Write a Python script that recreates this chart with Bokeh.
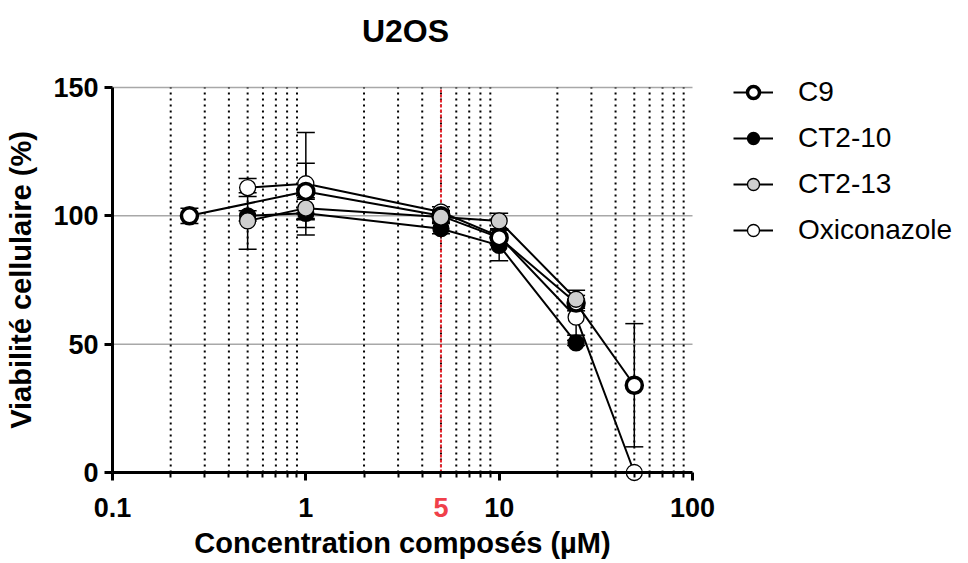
import math
from bokeh.plotting import figure
from bokeh.models import (ColumnDataSource, Whisker, TeeHead, Label, Legend, LegendItem,
                          FixedTicker, CustomJSTickFormatter, Range1d)
from bokeh.embed import file_html
from bokeh.resources import INLINE

# ---- data ----
x_c9 = [0.25, 1, 5, 10, 25, 50]
y_c9 = [100, 109.5, 100, 91.5, 66, 34]
e_c9 = [3, 11, 2, 3, 3, 24]

x_ct10 = [0.5, 1, 5, 10, 25]
y_ct10 = [100, 101, 95, 88.5, 50.5]
e_ct10 = [2, 5.5, 2, 6, 1]

x_ct13 = [0.5, 1, 5, 10, 25]
y_ct13 = [98, 103, 99.5, 98, 67.5]
e_ct13 = [11, 4, 2, 3, 3.5]

x_oxi = [0.5, 1, 5, 10, 25, 50]
y_oxi = [111, 112.5, 101.5, 92, 60.5, 0]
e_oxi = [3.5, 20, 2, 3, 7, 0]

x_major_ticks = [0.1, 1, 10, 100]
y_ticks = [0, 50, 100, 150]
highlight_conc = 5
title_text = "U2OS"

FONT = "Liberation Sans"

# ---- layout: whole canvas is the frame; axes are drawn at fixed locations ----
W, H = 960, 562
X0PX, X1PX = 112, 692      # pixel positions of x = 0.1 and x = 100
Y0PX, Y1PX = 472, 87       # pixel positions (from top) of y = 0 and y = 150
XMIN, XMAX = x_major_ticks[0], x_major_ticks[-1]
YMIN, YMAX = y_ticks[0], y_ticks[-1]
ppd = (X1PX - X0PX) / (math.log10(XMAX) - math.log10(XMIN))
ppu = (Y0PX - Y1PX) / (YMAX - YMIN)

def fx(px):
    return 10 ** (math.log10(XMIN) + (px - X0PX) / ppd)

def fy(py):
    return YMIN + (Y0PX - py) / ppu

p = figure(width=W, height=H, x_axis_type="log", output_backend="svg",
           toolbar_location=None, x_range=Range1d(fx(0), fx(W)), y_range=Range1d(fy(H), fy(0)),
           min_border=0)
p.outline_line_color = None
p.background_fill_color = "white"
p.border_fill_color = "white"

# axes
for ax in (p.xaxis[0], p.yaxis[0]):
    ax.axis_line_width = 3
    ax.major_tick_line_width = 3
    ax.minor_tick_line_width = 2
    ax.major_tick_in = 0
    ax.major_tick_out = 8
    ax.major_label_text_font = FONT
    ax.major_label_text_font_style = "bold"
    ax.major_label_text_font_size = "27px"
    ax.major_label_text_color = "black"
    ax.axis_label_text_font = FONT
    ax.axis_label_text_font_style = "bold"
    ax.axis_label_text_font_size = "29px"
    ax.axis_label_text_color = "black"

minor = [m * 10 ** e for e in (-1, 0, 1) for m in range(2, 10)]
p.xaxis.fixed_location = YMIN
p.xaxis.bounds = (XMIN, XMAX)
p.xaxis.ticker = FixedTicker(ticks=x_major_ticks, minor_ticks=minor)
p.xaxis.formatter = CustomJSTickFormatter(code="return tick < 1 ? tick.toFixed(1) : tick.toFixed(0);")
p.xaxis.minor_tick_in = 0
p.xaxis.minor_tick_out = 5
p.xaxis.major_label_standoff = 17
p.xaxis.axis_label = "Concentration composés (µM)"
p.xaxis.axis_label_standoff = 7

p.yaxis.fixed_location = XMIN
p.yaxis.bounds = (YMIN, YMAX)
p.yaxis.ticker = FixedTicker(ticks=y_ticks, minor_ticks=[])
p.yaxis.major_label_standoff = 6
p.yaxis.axis_label = "Viabilité cellulaire (%)"
p.yaxis.axis_label_standoff = 13

# grids (drawn as segments so they stay within the data area)
p.xgrid.visible = False
p.ygrid.visible = False
hgrid = y_ticks[1:]
p.segment(x0=[XMIN] * len(hgrid), y0=hgrid, x1=[XMAX] * len(hgrid), y1=hgrid,
          line_color="#a8a8a8", line_width=1.5)
p.segment(x0=minor, y0=[YMIN] * len(minor), x1=minor, y1=[YMAX] * len(minor),
          line_color="black", line_width=2, line_dash="2 4")

# red highlight line + its label
p.segment(x0=[highlight_conc], y0=[YMIN], x1=[highlight_conc], y1=[YMAX],
          line_color="#e8262e", line_width=2, line_dash="3 2")
p.add_layout(Label(x=highlight_conc, y=fy(Y0PX + 35), text=str(highlight_conc),
                   text_align="center", text_baseline="middle", text_font=FONT,
                   text_font_style="bold", text_font_size="27px", text_color="#f0404a"))

# title
p.add_layout(Label(x=fx(405), y=fy(30), text=title_text, text_align="center",
                   text_baseline="middle", text_font=FONT, text_font_style="bold",
                   text_font_size="32px", text_color="black"))

series = [
    ("Oxiconazole", x_oxi, y_oxi, e_oxi, "white", 1.3),
    ("CT2-10", x_ct10, y_ct10, e_ct10, "black", 1.3),
    ("C9", x_c9, y_c9, e_c9, "white", 3.5),
    ("CT2-13", x_ct13, y_ct13, e_ct13, "#cfcfcf", 1.3),
]

items = {}
for name, xs, ys, es, fill, lw in series:
    src = ColumnDataSource(dict(x=xs, y=ys, lo=[a - b for a, b in zip(ys, es)],
                                hi=[a + b for a, b in zip(ys, es)]))
    p.add_layout(Whisker(base="x", upper="hi", lower="lo", source=src, line_color="black",
                         line_width=1.5,
                         upper_head=TeeHead(size=18, line_width=1.5, line_color="black"),
                         lower_head=TeeHead(size=18, line_width=1.5, line_color="black")))
    ln = p.line("x", "y", source=src, line_color="black", line_width=2)
    sc = p.scatter("x", "y", source=src, marker="circle", size=16, fill_color=fill,
                   line_color="black", line_width=lw)
    items[name] = [ln, sc]

legend = Legend(items=[LegendItem(label=n, renderers=items[n]) for n in
                       ["C9", "CT2-10", "CT2-13", "Oxiconazole"]],
                location=(733, H - 246))
legend.border_line_color = None
legend.background_fill_alpha = 0
legend.padding = 0
legend.margin = 0
legend.spacing = 14
legend.glyph_width = 40
legend.glyph_height = 30
legend.label_height = 30
legend.label_standoff = 25
legend.label_text_font = FONT
legend.label_text_font_size = "28px"
legend.label_text_color = "black"
p.add_layout(legend, "center")

open("out.html", "w").write(file_html(p, INLINE))
